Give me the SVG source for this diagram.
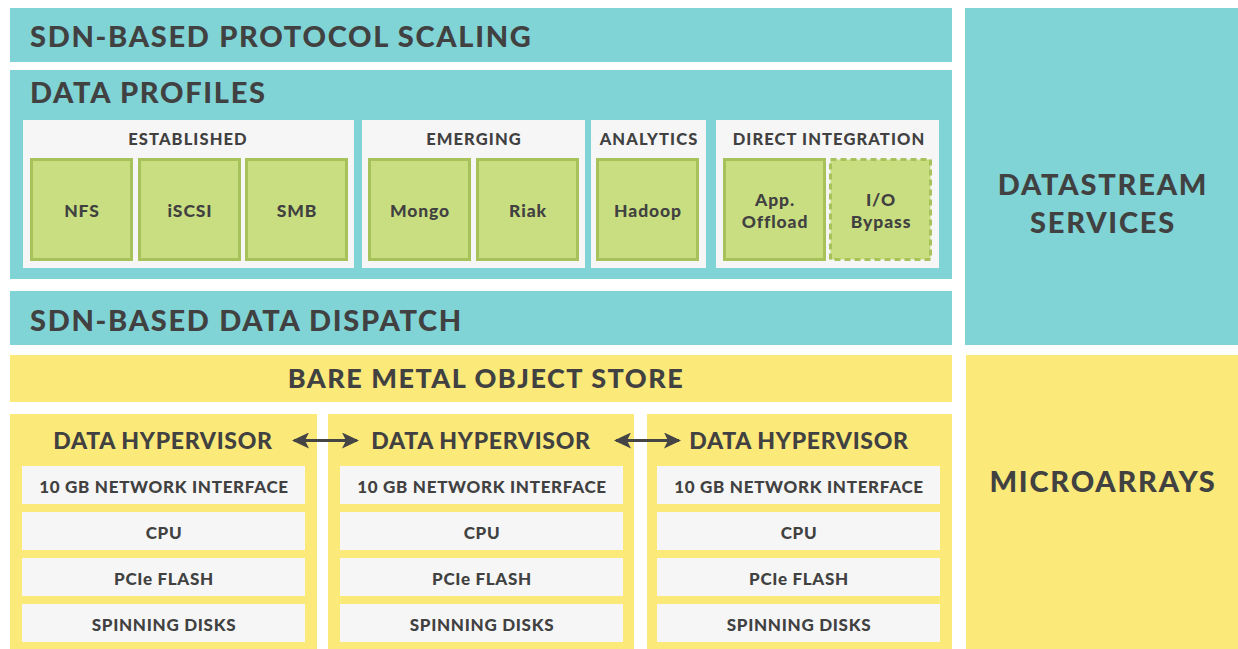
<svg xmlns="http://www.w3.org/2000/svg" width="1238" height="649" viewBox="0 0 1238 649">
<defs>
<style>
.cyan{fill:#80D4D6}
.yel{fill:#FBE97A}
.gray{fill:#F6F6F6}
.grn{fill:#C9DE80;stroke:#A8C25B;stroke-width:3}
.grnd{fill:#C9DE80;stroke:#A8C25B;stroke-width:3;stroke-dasharray:6 4}
text{font-family:"Lato","Liberation Sans",sans-serif;font-weight:900;fill:#414141}
.big{font-size:29px;letter-spacing:1.7px}
.mid{font-size:23px;text-anchor:middle;letter-spacing:0.7px}
.hdr{font-size:16.5px;text-anchor:middle;letter-spacing:1.1px}
.cell{font-size:17.5px;text-anchor:middle;letter-spacing:0.9px}
.row{font-size:17px;text-anchor:middle;letter-spacing:0.7px}
.side{font-size:29px;text-anchor:middle;letter-spacing:1.8px}
.conn{stroke:#454545;stroke-width:3;fill:none}
</style>
<marker id="ah" viewBox="0 0 17 16" refX="15" refY="8" markerWidth="17" markerHeight="16" markerUnits="userSpaceOnUse" orient="auto-start-reverse">
<path d="M0,0 L17,8 L0,16 L4,8 Z" fill="#454545"/>
</marker>
</defs>

<g id="protocol-scaling">
<rect class="cyan" x="10" y="8" width="942" height="54"/>
<text class="big" x="30" y="47">SDN-BASED PROTOCOL SCALING</text>
</g>

<g id="data-profiles">
<rect class="cyan" x="10" y="70" width="942" height="209"/>
<text class="big" x="30" y="103">DATA PROFILES</text>
</g>

<g id="established">
<rect class="gray" x="23" y="120" width="331" height="148"/>
<text class="hdr" x="188" y="145">ESTABLISHED</text>
</g>
<g id="nfs"><rect class="grn" x="31.5" y="159.5" width="100" height="100"/><text class="cell" x="82" y="217">NFS</text></g>
<g id="iscsi"><rect class="grn" x="139.5" y="159.5" width="100" height="100"/><text class="cell" x="190" y="217">iSCSI</text></g>
<g id="smb"><rect class="grn" x="246.5" y="159.5" width="100" height="100"/><text class="cell" x="297" y="217">SMB</text></g>

<g id="emerging">
<rect class="gray" x="362" y="120" width="223" height="148"/>
<text class="hdr" x="474" y="145">EMERGING</text>
</g>
<g id="mongo"><rect class="grn" x="369.5" y="159.5" width="100" height="100"/><text class="cell" x="420" y="217">Mongo</text></g>
<g id="riak"><rect class="grn" x="477.5" y="159.5" width="100" height="100"/><text class="cell" x="528" y="217">Riak</text></g>

<g id="analytics">
<rect class="gray" x="591" y="120" width="115" height="148"/>
<text class="hdr" x="649" y="145">ANALYTICS</text>
</g>
<g id="hadoop"><rect class="grn" x="597.5" y="159.5" width="100" height="100"/><text class="cell" x="648" y="217">Hadoop</text></g>

<g id="direct-integration">
<rect class="gray" x="716" y="120" width="223" height="148"/>
<text class="hdr" x="829" y="145">DIRECT INTEGRATION</text>
</g>
<g id="app-offload"><rect class="grn" x="724.5" y="159.5" width="100" height="100"/><text class="cell" x="775" y="206">App.</text><text class="cell" x="775" y="228">Offload</text></g>
<g id="io-bypass"><rect class="grnd" x="830.5" y="159.5" width="100" height="100"/><text class="cell" x="881" y="206">I/O</text><text class="cell" x="881" y="228">Bypass</text></g>

<g id="data-dispatch">
<rect class="cyan" x="10" y="291" width="942" height="54"/>
<text class="big" x="30" y="331">SDN-BASED DATA DISPATCH</text>
</g>

<g id="datastream-services">
<rect class="cyan" x="965" y="8" width="273" height="337"/>
<text class="side" x="1103" y="195">DATASTREAM</text>
<text class="side" x="1103" y="233">SERVICES</text>
</g>

<g id="bare-metal">
<rect class="yel" x="10" y="355" width="942" height="47"/>
<text class="mid" x="486" y="388" style="font-size:27px;letter-spacing:1.5px">BARE METAL OBJECT STORE</text>
</g>

<g id="microarrays">
<rect class="yel" x="966" y="355" width="272" height="294"/>
<text class="side" x="1103" y="492">MICROARRAYS</text>
</g>

<g id="hypervisor-1">
<rect class="yel" x="10" y="414" width="307" height="235"/>
<text class="mid" x="163" y="449">DATA HYPERVISOR</text>
<rect class="gray" x="22" y="466" width="283" height="38"/><text class="row" x="164" y="493">10 GB NETWORK INTERFACE</text>
<rect class="gray" x="22" y="512" width="283" height="38"/><text class="row" x="164" y="539">CPU</text>
<rect class="gray" x="22" y="558" width="283" height="38"/><text class="row" x="164" y="585">PCIe FLASH</text>
<rect class="gray" x="22" y="604" width="283" height="38"/><text class="row" x="164" y="631">SPINNING DISKS</text>
</g>

<g id="hypervisor-2">
<rect class="yel" x="328" y="414" width="306" height="235"/>
<text class="mid" x="481" y="449">DATA HYPERVISOR</text>
<rect class="gray" x="340" y="466" width="283" height="38"/><text class="row" x="482" y="493">10 GB NETWORK INTERFACE</text>
<rect class="gray" x="340" y="512" width="283" height="38"/><text class="row" x="482" y="539">CPU</text>
<rect class="gray" x="340" y="558" width="283" height="38"/><text class="row" x="482" y="585">PCIe FLASH</text>
<rect class="gray" x="340" y="604" width="283" height="38"/><text class="row" x="482" y="631">SPINNING DISKS</text>
</g>

<g id="hypervisor-3">
<rect class="yel" x="647" y="414" width="305" height="235"/>
<text class="mid" x="799" y="449">DATA HYPERVISOR</text>
<rect class="gray" x="657" y="466" width="283" height="38"/><text class="row" x="799" y="493">10 GB NETWORK INTERFACE</text>
<rect class="gray" x="657" y="512" width="283" height="38"/><text class="row" x="799" y="539">CPU</text>
<rect class="gray" x="657" y="558" width="283" height="38"/><text class="row" x="799" y="585">PCIe FLASH</text>
<rect class="gray" x="657" y="604" width="283" height="38"/><text class="row" x="799" y="631">SPINNING DISKS</text>
</g>

<g id="connectors">
<line class="conn" x1="294" y1="440.5" x2="357" y2="440.5" marker-start="url(#ah)" marker-end="url(#ah)"/>
<line class="conn" x1="616" y1="440.5" x2="679" y2="440.5" marker-start="url(#ah)" marker-end="url(#ah)"/>
</g>
</svg>
